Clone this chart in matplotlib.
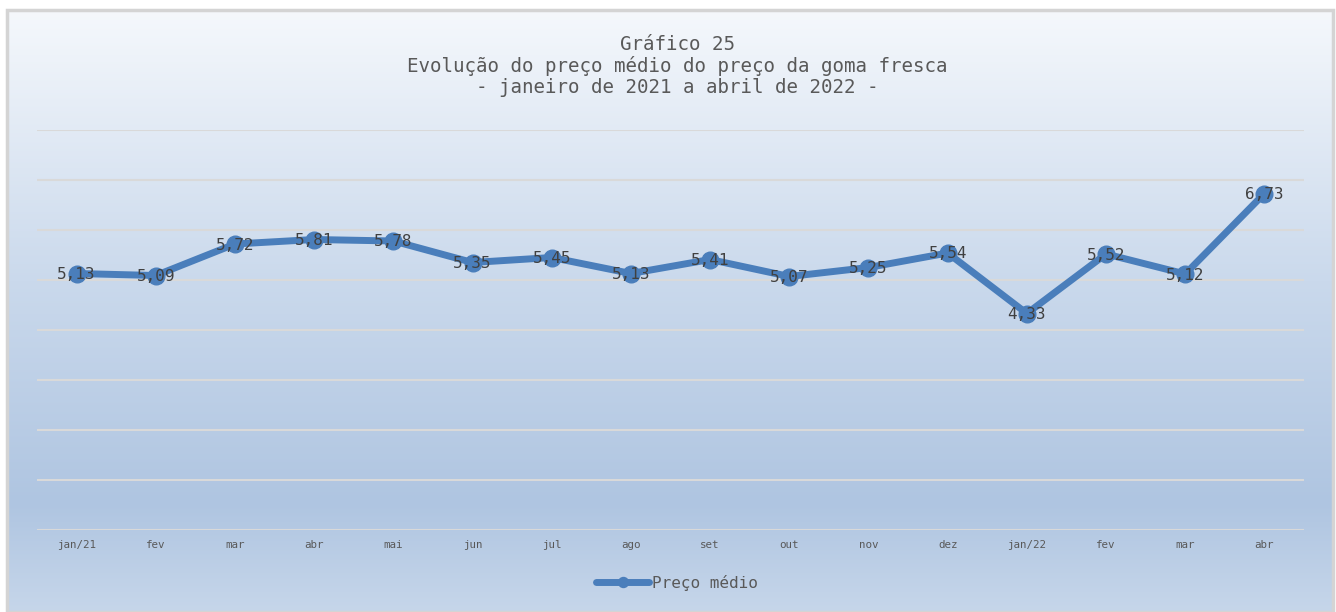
import matplotlib.pyplot as plt
import numpy as np
from matplotlib.colors import LinearSegmentedColormap
from matplotlib.patches import Rectangle

meses = ['jan/21', 'fev', 'mar', 'abr', 'mai', 'jun', 'jul', 'ago', 'set',
         'out', 'nov', 'dez', 'jan/22', 'fev', 'mar', 'abr']
preco_medio = [5.13, 5.09, 5.72, 5.81, 5.78, 5.35, 5.45, 5.13, 5.41,
               5.07, 5.25, 5.54, 4.33, 5.52, 5.12, 6.73]

plt.rcParams['font.family'] = ['DejaVu Sans Mono']

fig = plt.figure(figsize=(13.36, 6.12), dpi=100)
fig.patch.set_facecolor('white')

# fundo com degradê
bg = fig.add_axes([7 / 1336, 0, 1326 / 1336, 1 - 10 / 612], zorder=-10)
cmap = LinearSegmentedColormap.from_list(
    'bg', [(0.0, '#c6d6ea'), (0.18, '#afc5e1'), (0.55, '#cad9ec'), (1.0, '#f5f8fc')])
grad = np.linspace(0, 1, 256).reshape(-1, 1)
bg.imshow(grad, aspect='auto', cmap=cmap, origin='lower', extent=[0, 1, 0, 1])
bg.add_patch(Rectangle((0, 0), 1, 1, fill=False, edgecolor='#d4d4d4', lw=2.5,
                       transform=bg.transAxes, clip_on=False))
bg.set_axis_off()

ax = fig.add_axes([37 / 1336, 1 - 530 / 612, 1267 / 1336, 400 / 612])
ax.patch.set_alpha(0)
x = np.arange(len(meses))
ax.plot(x, preco_medio, color='#4a7ebb', lw=5, marker='o', markersize=12,
        solid_capstyle='round', label='Preço médio')
for xi, v in zip(x, preco_medio):
    ax.text(xi, v - 0.02, f'{v:.2f}'.replace('.', ','), ha='center', va='center',
            fontsize=11.5, color='#404040')

ax.set_xlim(-0.5, len(meses) - 0.5)
ax.set_ylim(0, 8)
ax.set_yticks(range(0, 9))
ax.yaxis.grid(True, color='#d9d9d9', lw=1.5)
ax.set_axisbelow(True)
ax.tick_params(axis='y', left=False, labelleft=False)
ax.set_xticks(x)
ax.set_xticklabels(meses, fontsize=7.8, color='#595959')
ax.tick_params(axis='x', length=0, pad=7)
for s in ax.spines.values():
    s.set_visible(False)

fig.text(0.507, 1 - 66 / 612,
         'Gráfico 25\nEvolução do preço médio do preço da goma fresca\n- janeiro de 2021 a abril de 2022 -',
         ha='center', va='center', fontsize=13.8, color='#595959', linespacing=1.15)

leg = fig.legend(loc='center', bbox_to_anchor=(0.507, 1 - 583 / 612), frameon=False,
                 fontsize=11.5, handlelength=3.3, handletextpad=0.2, markerscale=0.6)
for t in leg.get_texts():
    t.set_color('#595959')

fig.savefig('out.png', dpi=100)
